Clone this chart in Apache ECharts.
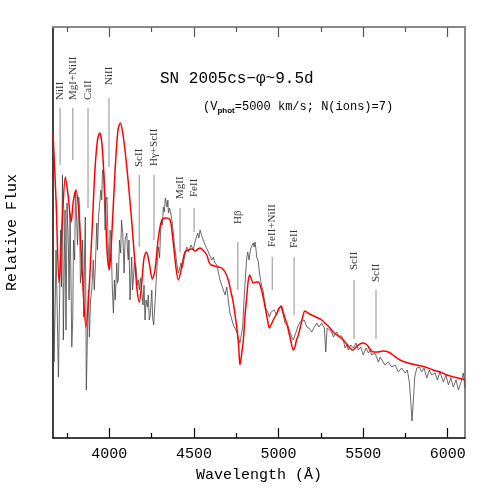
<!DOCTYPE html>
<html><head><meta charset="utf-8">
<script src="https://cdn.jsdelivr.net/npm/echarts@6/dist/echarts.min.js"></script>
<style>html,body{margin:0;padding:0;background:#fff}#c{width:491px;height:491px}</style>
</head><body><div id="c"></div>
<script>
const obsWave=[3667,3673,3679,3685,3691,3699,3706,3712,3717,3723,3728,3734,3738,3744,3750,3758,3762,3768,3774,3778,3784,3788,3795,3800,3807,3812,3819,3824,3829,3837,3842,3849,3853,3858,3864,3871,3876,3882,3889,3896,3901,3905,3911,3917,3926,3930,3937,3945,3950,3955,3960,3967,3972,3975,3980,3986,3992,4000,4004,4008,4013,4018,4024,4030,4035,4044,4048,4053,4060,4067,4072,4079,4084,4087,4093,4103,4108,4112,4116,4122,4128,4132,4137,4142,4148,4154,4158,4164,4171,4177,4184,4191,4199,4205,4211,4217,4225,4230,4236,4242,4251,4256,4262,4266,4271,4276,4282,4290,4297,4303,4310,4314,4319,4325,4331,4335,4341,4346,4349,4356,4363,4371,4378,4385,4394,4400,4408,4415,4424,4431,4437,4447,4457,4467,4477,4483,4496,4506,4517,4522,4529,4536,4546,4556,4566,4576,4585,4595,4605,4615,4621,4635,4644,4654,4664,4674,4684,4694,4703,4713,4723,4733,4739,4753,4762,4772,4778,4788,4796,4806,4812,4818,4826,4832,4837,4843,4851,4855,4861,4867,4871,4881,4885,4891,4901,4908,4916,4924,4936,4946,4956,4966,4975,4989,4999,5009,5015,5028,5038,5054,5068,5078,5087,5102,5113,5127,5137,5152,5167,5180,5196,5212,5226,5239,5255,5271,5279,5287,5298,5314,5324,5344,5353,5363,5373,5383,5393,5403,5412,5427,5442,5458,5472,5486,5501,5517,5531,5541,5551,5570,5590,5600,5610,5629,5649,5669,5689,5708,5728,5748,5761,5773,5781,5789,5797,5805,5817,5832,5846,5860,5876,5891,5905,5925,5939,5954,5974,5990,6004,6018,6033,6049,6063,6079,6092,6102];
const obsFlux=[2.68,0.76,1.25,1.88,1.38,0.61,1.38,2.08,1.51,2.63,0.98,1.78,2.28,1.08,2.35,1.91,1.38,2.25,1.48,0.91,1.21,1.98,1.78,2.48,2.18,1.93,2.41,2.31,1.55,1.68,1.98,1.21,1.78,2.21,0.48,1.08,1.48,1.01,1.38,1.48,1.63,1.78,1.48,1.71,2.15,1.88,2.23,2.21,2.48,2.38,2.68,2.63,2.28,2.08,2.38,2.41,1.98,1.71,2.08,2.05,1.78,1.48,1.25,1.58,1.38,1.75,1.55,1.58,1.98,1.85,2.18,2.05,1.83,1.65,1.98,2.05,1.85,1.78,1.98,1.38,1.63,1.81,1.48,1.58,1.76,1.75,1.71,1.53,1.58,1.48,1.60,1.48,1.33,1.53,1.18,1.38,1.31,1.43,1.18,1.23,1.48,1.20,1.13,1.15,1.38,1.55,1.73,1.91,1.80,2.08,2.18,2.13,2.31,2.26,2.40,2.41,2.31,2.38,2.25,2.30,2.25,2.16,2.05,1.93,1.81,1.73,1.65,1.63,1.75,1.70,1.71,1.83,1.91,1.86,1.85,1.93,1.88,1.96,1.96,2.05,2.00,2.08,2.02,1.98,1.93,1.91,1.86,1.88,1.78,1.81,1.76,1.73,1.66,1.58,1.60,1.48,1.43,1.51,1.38,1.25,1.25,1.13,1.15,1.06,1.01,0.95,0.96,1.11,1.38,1.65,1.80,1.86,1.78,1.86,1.90,1.88,1.95,1.91,1.96,1.88,1.81,1.76,1.68,1.61,1.51,1.48,1.38,1.30,1.26,1.21,1.26,1.25,1.28,1.23,1.30,1.28,1.31,1.23,1.15,1.13,1.06,1.01,0.98,1.05,1.11,1.16,1.15,1.18,1.11,1.10,1.06,1.11,1.15,1.11,1.15,1.10,0.86,1.10,1.08,1.06,1.01,1.06,1.02,1.00,1.02,0.98,0.90,0.93,0.88,0.93,0.90,0.95,0.88,0.91,0.83,0.90,0.85,0.88,0.83,0.85,0.76,0.81,0.80,0.73,0.76,0.71,0.73,0.66,0.70,0.65,0.68,0.56,0.38,0.17,0.38,0.61,0.70,0.71,0.66,0.70,0.60,0.68,0.63,0.65,0.58,0.66,0.56,0.63,0.53,0.60,0.51,0.58,0.48,0.56,0.65,0.50];
const modelWave=[3667,3685,3703,3721,3740,3756,3774,3788,3803,3821,3839,3862,3880,3898,3915,3930,3943,3957,3975,3986,4000,4016,4034,4051,4065,4081,4099,4116,4134,4152,4164,4177,4193,4205,4219,4235,4254,4270,4288,4310,4335,4359,4376,4394,4408,4430,4447,4467,4489,4506,4524,4536,4553,4576,4589,4601,4625,4644,4664,4684,4703,4719,4733,4743,4753,4764,4772,4781,4792,4802,4812,4820,4829,4837,4851,4867,4881,4891,4904,4914,4924,4935,4946,4956,4969,4991,5015,5027,5038,5048,5062,5074,5087,5097,5106,5117,5133,5144,5156,5174,5196,5221,5255,5281,5304,5322,5344,5369,5393,5417,5438,5458,5481,5501,5523,5540,5559,5587,5617,5649,5676,5700,5718,5747,5777,5817,5866,5913,5954,5996,6033,6073,6102];
const modelFlux=[3.05,2.38,1.55,2.13,2.61,2.43,2.16,2.38,2.48,2.23,1.68,1.11,1.48,2.08,2.68,2.98,3.05,2.93,2.38,1.88,1.68,2.08,2.68,3.08,3.15,3.03,2.78,2.48,2.13,1.73,1.48,1.36,1.58,1.80,1.86,1.76,1.59,1.68,1.98,2.18,2.20,2.18,1.98,1.70,1.58,1.73,1.86,1.88,1.89,1.87,1.89,1.90,1.88,1.83,1.76,1.73,1.72,1.71,1.70,1.66,1.58,1.46,1.35,1.23,1.11,0.93,0.73,0.83,0.98,1.23,1.41,1.56,1.63,1.60,1.55,1.56,1.56,1.53,1.45,1.37,1.28,1.18,1.10,1.13,1.18,1.25,1.32,1.26,1.20,1.15,1.05,0.96,0.88,0.91,0.98,1.03,1.14,1.22,1.27,1.25,1.23,1.21,1.18,1.14,1.10,1.06,1.03,1.00,0.96,0.91,0.88,0.91,0.94,0.95,0.93,0.89,0.86,0.86,0.87,0.86,0.83,0.80,0.78,0.76,0.745,0.73,0.71,0.68,0.66,0.63,0.61,0.595,0.58];
const lineIds=['NiII','MgI+NiII','CaII','NiII','ScII','Hγ+ScII','MgII','FeII','Hβ','FeII+NiII','FeII','ScII','ScII'];
const lineWave=[3709,3784,3874,3998,4177,4264,4418,4501,4759,4963,5092,5446,5576];
const lineTop=[3.30,3.30,3.30,3.40,2.63,2.63,2.30,2.30,1.96,1.81,1.81,1.58,1.48];
const lineBottom=[2.73,2.78,2.30,2.71,1.91,1.98,1.86,2.06,1.48,1.48,1.23,0.99,0.99];
const labelAt=[3.38,3.38,3.38,3.53,2.71,2.72,2.39,2.41,2.14,1.91,1.90,1.68,1.56];
const majorTicks=[4000,4500,5000,5500,6000];
const minorTicks=[3750,4250,4750,5250,5750];
const xMin=3667, xMax=6102, yMin=0, yMax=4.11;

const MONO='"Liberation Mono", "DejaVu Sans Mono", monospace';
const chart=echarts.init(document.getElementById('c'),null,{renderer:'canvas'});
function xa(pos, ticks, len, line, color){
  return {type:'value', min:xMin, max:xMax, position:pos,
    axisLine:{show:line, onZero:false, lineStyle:{color:color, width:pos==='top'?2:1.5}},
    axisTick:{show:true, inside:true, length:len, customValues:ticks, lineStyle:{color:pos==='top'?'#555':'#000', width:1.2}},
    axisLabel:{show:false}, splitLine:{show:false}};
}
const xAxes=[
  {type:'value', min:xMin, max:xMax, position:'bottom',
   name:'Wavelength (Å)', nameLocation:'middle', nameGap:30,
   nameTextStyle:{fontFamily:MONO, fontSize:15, color:'#000'},
   axisLine:{show:true, onZero:false, lineStyle:{color:'#000', width:1.5}},
   axisTick:{show:true, inside:true, length:10, customValues:majorTicks, lineStyle:{color:'#000', width:1.2}},
   axisLabel:{show:true, customValues:majorTicks, margin:9, fontFamily:MONO, fontSize:15, color:'#000',
     formatter:function(v){return String(v);}},
   splitLine:{show:false}},
  xa('bottom', minorTicks, 5, false, '#000'),
  xa('top', majorTicks, 10, true, '#888'),
  xa('top', minorTicks, 5, false, '#888')
];
chart.setOption({
  animation:false,
  grid:{left:53, right:26, top:27, bottom:53, containLabel:false, outerBoundsMode:'none'},
  xAxis:xAxes,
  yAxis:[
    {type:'value', min:yMin, max:yMax, position:'left',
     name:'Relative Flux', nameLocation:'middle', nameGap:33, nameRotate:90,
     nameTextStyle:{fontFamily:MONO, fontSize:15, color:'#000'},
     axisLine:{show:true, onZero:false, lineStyle:{color:'#000', width:1.5}},
     axisTick:{show:false}, axisLabel:{show:false}, splitLine:{show:false}},
    {type:'value', min:yMin, max:yMax, position:'right',
     axisLine:{show:true, onZero:false, lineStyle:{color:'#888', width:2}},
     axisTick:{show:false}, axisLabel:{show:false}, splitLine:{show:false}}
  ],
  graphic:[
    {type:'text', left:160, top:71, style:{text:'SN 2005cs\u2212\u03c6~9.5d', font:'16px '+MONO, fill:'#000'}},
    {type:'text', left:203, top:101, style:{text:'(V{s|phot}=5000 km/s; N(ions)=7)', font:'12px '+MONO, fill:'#000',
      rich:{s:{font:'bold 8px "Liberation Sans"', fill:'#000', padding:[7,0,0,0]}}}}
  ],
  series:[
    {type:'custom', xAxisIndex:0, yAxisIndex:0, silent:true, z:1,
     data:lineWave.map((w,i)=>[w,lineTop[i],lineBottom[i],labelAt[i]]),
     encode:{x:0,y:1},
     renderItem:function(params, api){
       const i=params.dataIndex, w=api.value(0);
       const p1=api.coord([w,api.value(1)]), p2=api.coord([w,api.value(2)]), pt=api.coord([w,api.value(3)]);
       return {type:'group', children:[
         {type:'line', shape:{x1:p1[0],y1:p1[1],x2:p2[0],y2:p2[1]}, style:{stroke:'#a8a8a8', lineWidth:1.3}},
         {type:'text', x:pt[0], y:pt[1], rotation:Math.PI/2,
          style:{text:lineIds[i], x:0, y:0, align:'left', verticalAlign:'middle', fill:'#333', font:'11px "Liberation Serif", serif'}}
       ]};
     }},
    {type:'line', xAxisIndex:0, yAxisIndex:0, z:2, showSymbol:false, symbol:'none',
     data:obsWave.map((w,i)=>[w,obsFlux[i]]),
     lineStyle:{color:'#444', width:0.8}},
    {type:'line', xAxisIndex:0, yAxisIndex:0, z:3, showSymbol:false, symbol:'none', smooth:0.3,
     data:modelWave.map((w,i)=>[w,modelFlux[i]]),
     lineStyle:{color:'#ff0000', width:1.5}}
  ]
});
</script></body></html>
